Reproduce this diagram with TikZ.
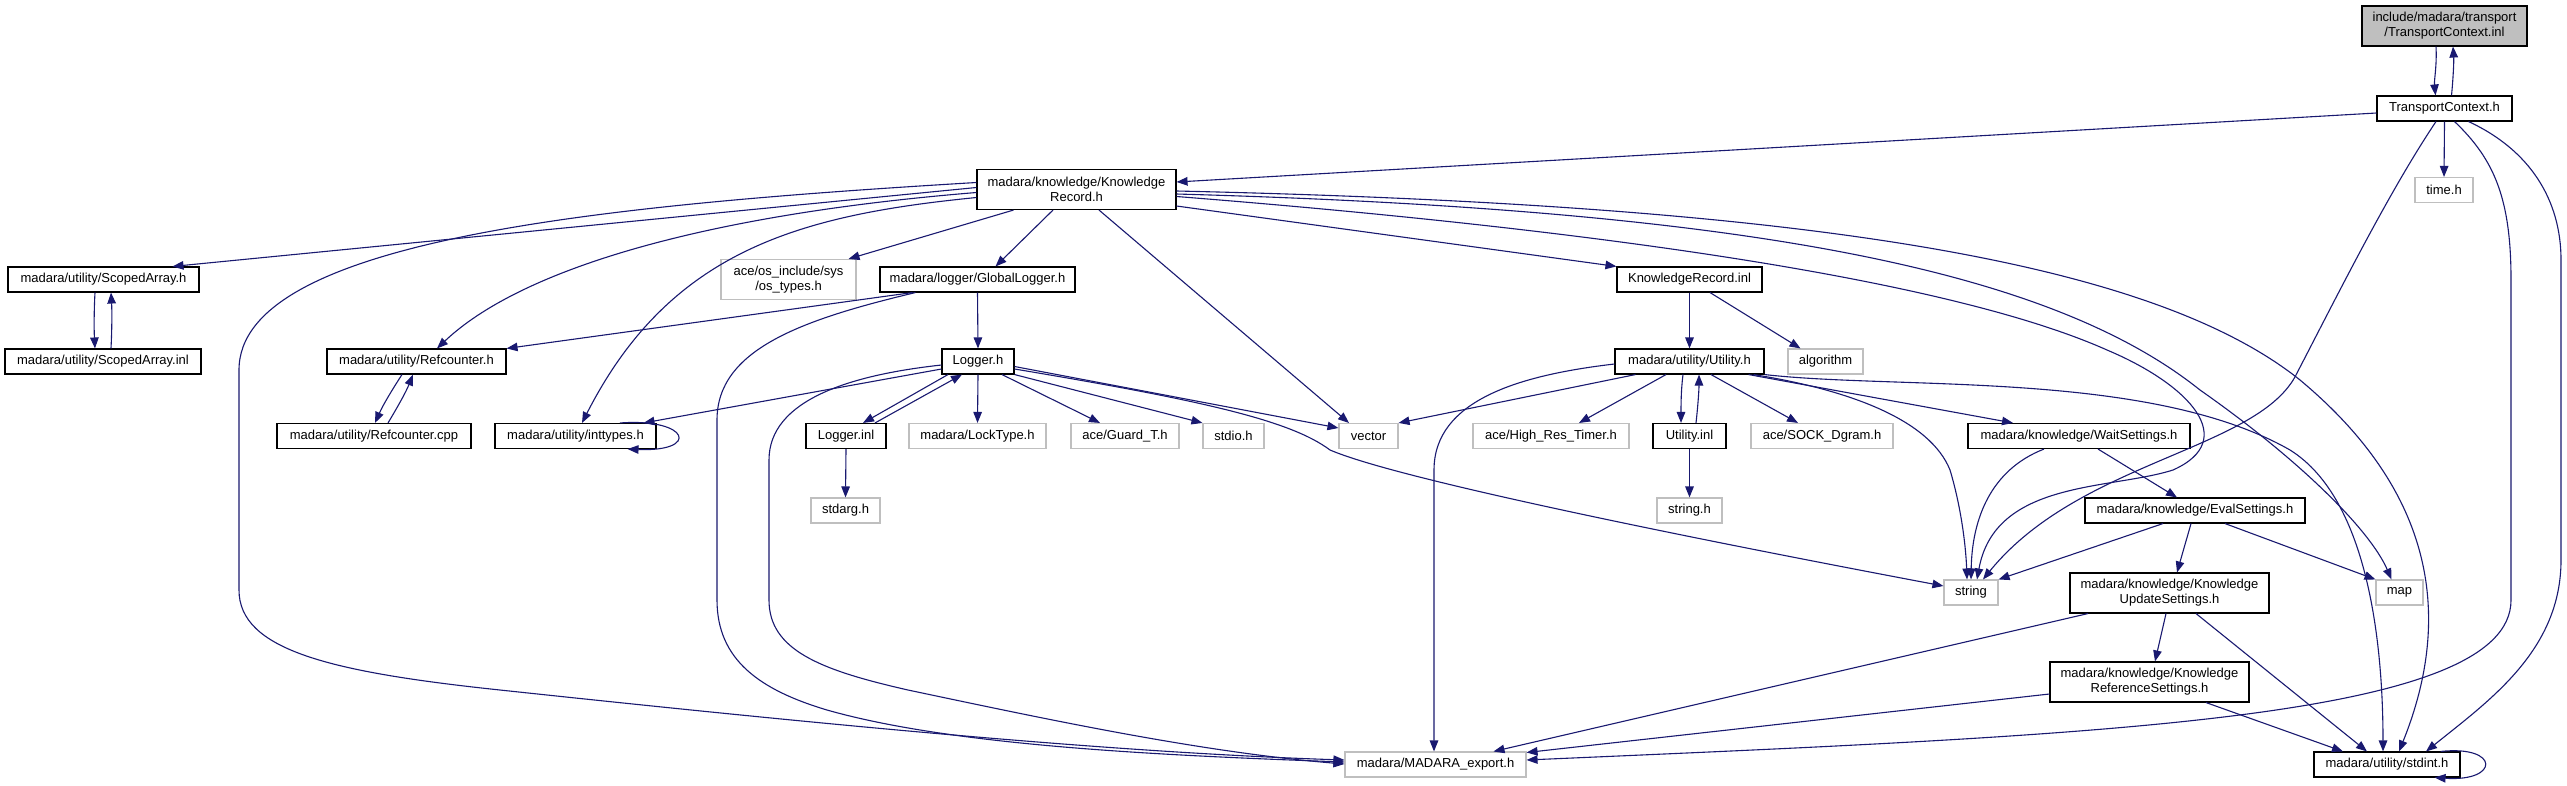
\documentclass[tikz,border=0pt]{standalone}
\usepackage{fontspec}
\setmainfont{Liberation Sans}
\usetikzlibrary{arrows.meta}
\definecolor{edgeblue}{HTML}{191970}
\definecolor{extgray}{HTML}{BFBFBF}
\begin{document}
\begin{tikzpicture}[x=1pt,y=-1pt,
  filebox/.style={draw=black, line width=1.1pt, fill=white, inner sep=0pt, minimum height=25pt, align=center, font=\fontsize{13}{15}\selectfont},
  extbox/.style={filebox, draw=extgray},
  rootbox/.style={filebox, fill=extgray},
  dep/.style={draw=edgeblue, line width=1.1pt, -{Triangle[length=11pt,width=8.5pt]}},
]
\useasboundingbox[fill=white] (0,0) rectangle (2567,785);
% rank 0-2
\node[rootbox, minimum width=165pt, minimum height=40pt] (tcinl) at (2444.5,26) {include/madara/transport\\/TransportContext.inl};
\node[filebox, minimum width=135pt] (tch) at (2444.5,108.5) {TransportContext.h};
\node[filebox, minimum width=199pt, minimum height=40pt] (kr) at (1076.5,189.5) {madara/knowledge/Knowledge\\Record.h};
\node[extbox, minimum width=58pt] (timeh) at (2444,190) {time.h};
% rank 3
\node[filebox, minimum width=191pt] (sa) at (103.5,279.5) {madara/utility/ScopedArray.h};
\node[extbox, minimum width=135pt, minimum height=40pt] (ostypes) at (788.5,279.5) {ace/os\_include/sys\\/os\_types.h};
\node[filebox, minimum width=195pt] (glog) at (977.5,279.5) {madara/logger/GlobalLogger.h};
\node[filebox, minimum width=145pt] (krinl) at (1689.5,279.5) {KnowledgeRecord.inl};
% rank 4
\node[filebox, minimum width=196pt] (sainl) at (103,361.5) {madara/utility/ScopedArray.inl};
\node[filebox, minimum width=179pt] (rch) at (416.5,361.5) {madara/utility/Refcounter.h};
\node[filebox, minimum width=72pt] (loggerh) at (978,361.5) {Logger.h};
\node[filebox, minimum width=149pt] (utilh) at (1689.5,361.5) {madara/utility/Utility.h};
\node[extbox, minimum width=75pt] (algo) at (1825.5,361.5) {algorithm};
% rank 5
\node[filebox, minimum width=194pt] (rccpp) at (374,436) {madara/utility/Refcounter.cpp};
\node[filebox, minimum width=161pt] (intt) at (575.5,436) {madara/utility/inttypes.h};
\node[filebox, minimum width=80pt] (loginl) at (846,436) {Logger.inl};
\node[extbox, minimum width=137pt] (locktype) at (977.5,436) {madara/LockType.h};
\node[extbox, minimum width=108pt] (guard) at (1125,436) {ace/Guard\_T.h};
\node[extbox, minimum width=61pt] (stdio) at (1233.5,436) {stdio.h};
\node[extbox, minimum width=59pt] (vector) at (1368.5,436) {vector};
\node[extbox, minimum width=156pt] (hrt) at (1551,436) {ace/High\_Res\_Timer.h};
\node[filebox, minimum width=73pt] (utilinl) at (1689.5,436) {Utility.inl};
\node[extbox, minimum width=142pt] (sock) at (1822,436) {ace/SOCK\_Dgram.h};
\node[filebox, minimum width=222pt] (wait) at (2079,436) {madara/knowledge/WaitSettings.h};
% rank 6
\node[extbox, minimum width=69pt] (stdarg) at (845.5,510.5) {stdarg.h};
\node[extbox, minimum width=65pt] (stringh) at (1689.5,510.5) {string.h};
\node[filebox, minimum width=220pt] (eval) at (2195,510.5) {madara/knowledge/EvalSettings.h};
% rank 7-9
\node[extbox, minimum width=54pt] (string) at (1971,592.5) {string};
\node[filebox, minimum width=199pt, minimum height=40pt] (kus) at (2169.5,593) {madara/knowledge/Knowledge\\UpdateSettings.h};
\node[extbox, minimum width=47pt] (map) at (2399.5,592.5) {map};
\node[filebox, minimum width=199pt, minimum height=40pt] (krs) at (2149.5,682) {madara/knowledge/Knowledge\\ReferenceSettings.h};
\node[extbox, minimum width=181pt] (mexp) at (1435.5,764.5) {madara/MADARA\_export.h};
\node[filebox, minimum width=146pt] (stdint) at (2387,764.5) {madara/utility/stdint.h};

% TransportContext
\draw[dep] ([xshift=-8.5pt]tcinl.south) .. controls (2437,66) and (2434,80) .. ([xshift=-9pt]tch.north);
\draw[dep] ([xshift=7pt]tch.north) .. controls (2453,80) and (2454,62) .. ([xshift=8.5pt]tcinl.south);
\draw[dep] ([yshift=-4.5pt]tch.west) -- ([yshift=7.5pt]kr.east);
\draw[dep] (tch.south) -- (timeh.north);
\draw[dep] ([xshift=-8.5pt]tch.south) .. controls (2390,190) and (2340,290) .. (2297,373) .. controls (2260,450) and (2080,460) .. ([xshift=12pt]string.north);
\draw[dep] ([xshift=10pt]tch.south) .. controls (2495,160) and (2511,200) .. (2511,280) -- (2511,600) .. controls (2511,720) and (2100,735) .. ([yshift=4.5pt]mexp.east);
\draw[dep] ([xshift=24pt]tch.south) .. controls (2530,150) and (2561,200) .. (2561,260) -- (2561,560) .. controls (2561,650) and (2490,700) .. ([xshift=39pt]stdint.north);

% KnowledgeRecord.h
\draw[dep] ([yshift=7pt]kr.west) .. controls (600,205) and (239,240) .. (239,370) -- (239,590) .. controls (239,650) and (330,672) .. (500,690) .. controls (800,722) and (1100,752) .. ([yshift=4.5pt]mexp.west);
\draw[dep] ([yshift=2pt]kr.west) -- ([xshift=69pt]sa.north);
\draw[dep] ([yshift=-3pt]kr.west) .. controls (700,215) and (520,270) .. ([xshift=20.5pt]rch.north);
\draw[dep] ([yshift=-8pt]kr.west) .. controls (800,215) and (670,250) .. ([xshift=6.5pt]intt.north);
\draw[dep] ([xshift=-63pt]kr.south) -- ([xshift=60pt]ostypes.north);
\draw[dep] ([xshift=-23.5pt]kr.south) -- ([xshift=18pt]glog.north);
\draw[dep] ([xshift=22.5pt]kr.south) -- ([xshift=-19.5pt]vector.north);
\draw[dep] ([yshift=-16.5pt]kr.east) -- (krinl.north west);
\draw[dep] ([yshift=-7pt]kr.east) .. controls (1600,230) and (1950,280) .. (2107,350) .. controls (2190,385) and (2240,440) .. (2173,470) .. controls (2110,490) and (1995,480) .. ([xshift=6pt]string.north);
\draw[dep] ([yshift=-4.5pt]kr.east) .. controls (1750,210) and (2050,270) .. (2200,390) .. controls (2300,460) and (2370,530) .. ([xshift=-8pt]map.north);
\draw[dep] ([yshift=-1.5pt]kr.east) .. controls (1800,205) and (2150,260) .. (2300,380) .. controls (2420,480) and (2460,600) .. ([xshift=12pt]stdint.north);

% ScopedArray
\draw[dep] ([xshift=-8.5pt]sa.south) .. controls (94,310) and (94,330) .. ([xshift=-8pt]sainl.north);
\draw[dep] ([xshift=8pt]sainl.north) .. controls (112,330) and (112,310) .. ([xshift=7.5pt]sa.south);

% GlobalLogger
\draw[dep] (glog.south) -- (loggerh.north);
\draw[dep] ([xshift=-65pt]glog.south) -- (rch.north east);
\draw[dep] ([xshift=-62pt]glog.south) .. controls (800,320) and (717,350) .. (717,420) -- (717,600) .. controls (717,660) and (760,690) .. (827,710) .. controls (950,745) and (1150,755) .. ([yshift=2.5pt]mexp.west);

% Refcounter
\draw[dep] ([xshift=-14.5pt]rch.south) .. controls (392,390) and (383,405) .. ([xshift=1pt]rccpp.north);
\draw[dep] ([xshift=14pt]rccpp.north) .. controls (397,408) and (406,392) .. ([xshift=-3.5pt]rch.south);

% Logger.h
\draw[dep] ([yshift=-3.5pt]loggerh.west) .. controls (850,375) and (769,400) .. (769,460) -- (769,600) .. controls (769,650) and (820,670) .. (908,690) .. controls (1050,720) and (1200,752) .. ([yshift=0.5pt]mexp.west);
\draw[dep] ([yshift=-7.5pt]loggerh.west) -- ([xshift=-13pt]intt.north east);
\draw[dep] ([xshift=-30pt]loggerh.south) -- ([xshift=17pt]loginl.north);
\draw[dep] ([xshift=29pt]loginl.north) -- ([xshift=-16pt]loggerh.south);
\draw[dep] (loggerh.south) -- (locktype.north);
\draw[dep] ([xshift=24pt]loggerh.south) -- ([xshift=-25pt]guard.north);
\draw[dep] (loggerh.south east) -- (stdio.north west);
\draw[dep] ([yshift=-5pt]loggerh.east) -- ([yshift=8pt]vector.west);
\draw[dep] ([yshift=-7.5pt]loggerh.east) .. controls (1200,400) and (1290,420) .. (1330,450) .. controls (1400,480) and (1700,540) .. ([yshift=6.5pt]string.west);
\draw[dep] (loginl.south) -- (stdarg.north);

% inttypes self loop
\draw[dep] ([xshift=44.5pt]intt.north) .. controls (690,418) and (700,452) .. ([xshift=-29pt]intt.south east);

% KnowledgeRecord.inl / Utility
\draw[dep] (krinl.south) -- (utilh.north);
\draw[dep] ([xshift=20.5pt]krinl.south) -- ([xshift=-25pt]algo.north);
\draw[dep] ([xshift=-54pt]utilh.south) -- (vector.north east);
\draw[dep] ([xshift=-23.5pt]utilh.south) -- ([xshift=28pt]hrt.north);
\draw[dep] ([xshift=-6.5pt]utilh.south) .. controls (1681,390) and (1681,405) .. ([xshift=-8.5pt]utilinl.north);
\draw[dep] ([xshift=6.5pt]utilinl.north) .. controls (1698,405) and (1699,390) .. ([xshift=9.5pt]utilh.south);
\draw[dep] ([xshift=21.5pt]utilh.south) -- ([xshift=-24pt]sock.north);
\draw[dep] ([xshift=-16pt]utilh.south east) -- ([xshift=-66pt]wait.north);
\draw[dep] ([xshift=-11pt]utilh.south east) .. controls (1850,390) and (1930,420) .. (1950,470) .. controls (1962,510) and (1966,550) .. ([xshift=-4pt]string.north);
\draw[dep] (utilh.south east) .. controls (1900,390) and (2150,370) .. (2290,450) .. controls (2370,500) and (2383,650) .. ([xshift=-4pt]stdint.north);
\draw[dep] ([yshift=-2.5pt]utilh.west) .. controls (1520,375) and (1434,400) .. (1434,470) -- ([xshift=-1.5pt]mexp.north);
\draw[dep] (utilinl.south) -- (stringh.north);

% Settings
\draw[dep] ([xshift=-35pt]wait.south) .. controls (1990,470) and (1972,520) .. (string.north);
\draw[dep] ([xshift=19pt]wait.south) -- ([xshift=-18pt]eval.north);
\draw[dep] ([xshift=-32pt]eval.south) -- (string.north east);
\draw[dep] ([xshift=-4pt]eval.south) -- ([xshift=7.5pt]kus.north);
\draw[dep] ([xshift=30pt]eval.south) -- (map.north west);
\draw[dep] ([xshift=-3.5pt]kus.south) -- ([xshift=5.5pt]krs.north);
\draw[dep] ([xshift=-81.5pt]kus.south) -- ([xshift=58pt]mexp.north);
\draw[dep] ([xshift=26.5pt]kus.south) -- ([xshift=-20pt]stdint.north);
\draw[dep] ([yshift=-12pt]krs.west) -- ([yshift=12pt]mexp.east);
\draw[dep] ([xshift=56.5pt]krs.south) -- ([xshift=-44pt]stdint.north);

% stdint self loop
\draw[dep] ([xshift=-20pt]stdint.north east) .. controls (2500,745) and (2500,782) .. ([xshift=-26pt]stdint.south east);
\end{tikzpicture}
\end{document}
